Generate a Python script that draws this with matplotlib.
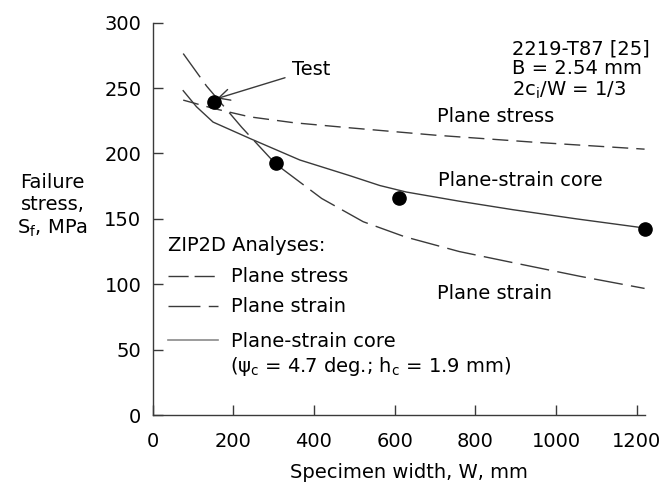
import matplotlib
matplotlib.use("Agg")
from matplotlib import pyplot as plt

plt.rcParams['font.family'] = ['DejaVu Sans']
plt.rcParams['mathtext.fontset'] = 'dejavusans'
plt.rcParams['lines.scale_dashes'] = False

# test data
test_w = [152, 305, 610, 1220]
test_s = [239, 193, 166, 142]

# ZIP2D analyses
stress_w = [76, 150, 241, 350, 489, 700, 950, 1219]
stress_s = [240.8, 234.5, 228, 223.5, 219.6, 214, 208.5, 203.3]

strain_w = [76, 134, 221, 305, 419, 522, 625, 760, 901, 1060, 1219]
strain_s = [276.4, 251.5, 220, 192, 165.6, 147.8, 136.3, 125, 116, 106, 96.8]

core_w = [76, 109, 150, 241, 365, 489, 563, 629, 760, 893, 1050, 1219]
core_s = [248, 235.7, 224, 211.5, 195, 183, 175.5, 170.5, 163.5, 157, 150, 143]

xticks = [0, 200, 400, 600, 800, 1000, 1200]
yticks = [0, 50, 100, 150, 200, 250, 300]

line_col = '#3a3a3a'
fs = 14

fig = plt.figure(figsize=(6.62, 4.87), dpi=100)
ax = fig.add_axes([0.2304, 0.1478, 0.7439, 0.8056])

ax.plot(stress_w, stress_s, color=line_col, lw=1.0, dashes=(11.5, 5.8))
ax.plot(strain_w, strain_s, color=line_col, lw=1.0, dashes=(21, 6))
ax.plot(core_w, core_s, color=line_col, lw=1.0)
ax.plot(test_w, test_s, 'o', color='black', ms=9.5, clip_on=False, zorder=5)

ax.annotate('Test', xy=(160, 242), xytext=(345, 264), fontsize=fs,
            ha='left', va='center',
            arrowprops=dict(arrowstyle='->', color=line_col, lw=1.0,
                            mutation_scale=20, shrinkA=3, shrinkB=0))

ax.text(890, 287, '2219-T87 [25]\nB = 2.54 mm\n2c$_\\mathrm{i}$/W = 1/3',
        fontsize=fs, ha='left', va='top', linespacing=1.05)
ax.text(704, 228, 'Plane stress', fontsize=fs, va='center')
ax.text(707, 179.6, 'Plane-strain core', fontsize=fs, va='center')
ax.text(704, 93, 'Plane strain', fontsize=fs, va='center')

# legend block
ax.text(38, 130, 'ZIP2D Analyses:', fontsize=fs, va='center')
ax.plot([38, 162], [106.5, 106.5], color=line_col, lw=1.0, dashes=(14.5, 4.3))
ax.plot([38, 162], [83.5, 83.5], color=line_col, lw=1.0, dashes=(23, 6))
ax.plot([38, 162], [57, 57], color='#8a8a8a', lw=1.2)
ax.text(195, 106, 'Plane stress', fontsize=fs, va='center')
ax.text(195, 83, 'Plane strain', fontsize=fs, va='center')
ax.text(195, 56.5, 'Plane-strain core', fontsize=fs, va='center')
ax.text(192, 37, '(ψ$_\\mathrm{c}$ = 4.7 deg.; h$_\\mathrm{c}$ = 1.9 mm)',
        fontsize=fs, va='center')

ax.set_xlim(0, 1220)
ax.set_ylim(0, 300)
ax.set_xticks(xticks)
ax.set_yticks(yticks)
ax.spines['top'].set_visible(False)
ax.spines['right'].set_visible(False)
for s in ['left', 'bottom']:
    ax.spines[s].set_color(line_col)
    ax.spines[s].set_linewidth(1.0)
ax.tick_params(axis='y', direction='in', length=7, width=1.0, color=line_col,
               labelsize=fs, pad=8)
ax.tick_params(axis='x', direction='in', length=7, width=1.0, color=line_col,
               labelsize=fs, pad=12)

ax.set_xlabel('Specimen width, W, mm', fontsize=fs, labelpad=9)
ax.xaxis.label.set_x(0.521)
fig.text(52.5 / 662, 1 - 206 / 487, 'Failure\nstress,\nS$_\\mathrm{f}$, MPa',
         fontsize=fs, ha='center', va='center', multialignment='center')

fig.savefig('out.png', dpi=100)
